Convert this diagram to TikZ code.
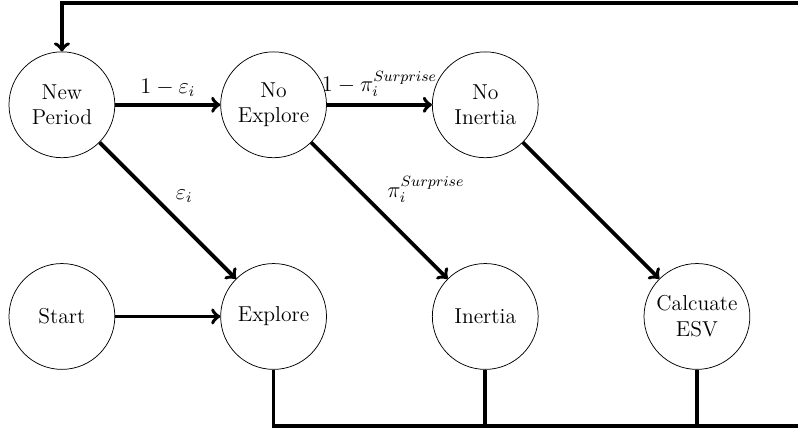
\documentclass[tikz,border=0pt]{standalone}
\usetikzlibrary{positioning}

\begin{document}
\begin{tikzpicture}[
        node distance=4cm,
        state/.style={circle, draw=black, thin, align=center, minimum size=2cm, inner sep=0pt, font=\fontsize{11.6}{13.9}\selectfont},
        flow/.style={draw, ->, line width=2pt},
        loopline/.style={draw, line width=2pt},
        lbl/.style={font=\fontsize{11.6}{13.9}\selectfont}
    ]
        \useasboundingbox (-1.17,-6.12) rectangle (13.91,1.98);

        \node[state] (newp) {New\\Period};
        \node[state] (noexp) [right of=newp] {No\\Explore};
        \node[state] (noin) [right of=noexp] {No\\Inertia};

        \node[state] (start) [below of=newp] {Start};
        \node[state] (exp) [right of=start] {Explore};
        \node[state] (inert) [right of=exp] {Inertia};
        \node[state] (esv) [right of=inert] {Calcuate\\ESV};

        \coordinate (topend) at (13.91,1.93);
        \coordinate (botend) at (13.91,-6.07);

        \draw[flow] (newp) -- node[lbl, above] {$1-\varepsilon_i$} (noexp);
        \draw[flow] (noexp) -- node[lbl, above] {$1-\pi_i^{Surprise}$} (noin);
        \draw[flow] (newp.south east) -- node[lbl, above right] {$\varepsilon_i$} (exp.north west);
        \draw[flow] (noexp.south east) -- node[lbl, above right] {$\pi_i^{Surprise}$} (inert.north west);
        \draw[flow] (noin.south east) -- (esv.north west);
        \draw[flow] (start) -- (exp);

        % back to a new period
        \draw[loopline] (exp.south) |- (botend);
        \draw[loopline] (inert.south) -- (inert.south |- botend);
        \draw[loopline] (esv.south) -- (esv.south |- botend);
        \draw[flow] (topend) -| (newp.north);
    \end{tikzpicture}
\end{document}
